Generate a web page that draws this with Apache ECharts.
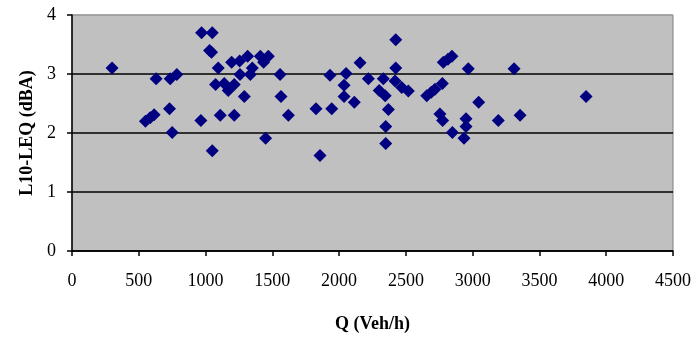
<!DOCTYPE html>
<html>
<head>
    <meta charset="utf-8">
    <title>L10-LEQ vs Q</title>
    <script src="https://cdn.jsdelivr.net/npm/echarts@6/dist/echarts.min.js"></script>
    <style>
        html, body { margin: 0; padding: 0; background: #fff; }
        #chart { width: 699px; height: 338px; }
    </style>
</head>
<body>
    <div id="chart"></div>
    <script>
        // flow (veh/h) and L10-LEQ (dBA)
        const flow = [
            300, 550, 585, 615, 630, 735, 785, 730, 750,
            965, 970, 1050, 1030, 1045, 1050, 1095, 1075, 1110,
            1140, 1170, 1195, 1215, 1215, 1255, 1258, 1290, 1315, 1335, 1350,
            1410, 1435, 1470, 1450, 1558, 1565, 1620,
            1827, 1857, 1932, 1945, 2037, 2037, 2052, 2114, 2157, 2219,
            2300, 2331, 2345, 2369, 2349, 2349, 2424, 2424, 2419, 2469, 2518,
            2656, 2690, 2718, 2773, 2780, 2815, 2845, 2755, 2775, 2848,
            2967, 2950, 2950, 2935, 3045, 3192, 3310, 3355, 3849
        ];
        const l10leq = [
            3.1, 2.2, 2.26, 2.31, 2.92, 2.92, 2.99, 2.41, 2.01,
            2.21, 3.7, 3.7, 3.4, 3.37, 1.7, 3.1, 2.82, 2.3,
            2.84, 2.72, 3.2, 2.82, 2.3, 3.22, 2.99, 2.62, 3.3, 2.99, 3.1,
            3.3, 3.2, 3.3, 1.91, 2.99, 2.62, 2.3,
            2.41, 1.62, 2.98, 2.41, 2.81, 2.62, 3.01, 2.52, 3.19, 2.92,
            2.72, 2.92, 2.63, 2.4, 2.11, 1.82, 3.58, 3.1, 2.88, 2.77, 2.71,
            2.63, 2.69, 2.74, 2.84, 3.2, 3.25, 3.3, 2.32, 2.21, 2.01,
            3.09, 2.24, 2.11, 1.91, 2.52, 2.21, 3.09, 2.3, 2.62
        ];

        const points = flow.map((q, i) => [q, l10leq[i]]);
        const font = '"Liberation Serif", "Times New Roman", serif';

        const chart = echarts.init(document.getElementById('chart'));
        chart.setOption({
            animation: false,
            backgroundColor: '#ffffff',
            grid: {
                left: 72, right: 26, top: 15, bottom: 85,
                show: true,
                backgroundColor: '#c0c0c0',
                borderColor: '#808080',
                borderWidth: 1
            },
            xAxis: {
                type: 'value',
                min: 0, max: 4500, interval: 500,
                name: 'Q (Veh/h)',
                nameLocation: 'middle',
                nameGap: 64,
                nameTextStyle: { fontFamily: font, fontSize: 18, fontWeight: 'bold', color: '#000' },
                axisLine: { onZero: false, lineStyle: { color: '#000', width: 1.5 } },
                axisTick: { show: true, length: 5, lineStyle: { color: '#000', width: 1.5 } },
                axisLabel: {
                    margin: 21, fontFamily: font, fontSize: 18, color: '#000',
                    formatter: v => String(v)
                },
                splitLine: { show: false }
            },
            yAxis: {
                type: 'value',
                min: 0, max: 4, interval: 1,
                name: 'L10-LEQ (dBA)',
                nameLocation: 'middle',
                nameGap: 36,
                nameTextStyle: { fontFamily: font, fontSize: 18, fontWeight: 'bold', color: '#000' },
                axisLine: { show: true, lineStyle: { color: '#000', width: 1.5 } },
                axisTick: { show: true, length: 5, lineStyle: { color: '#000', width: 1.5 } },
                axisLabel: { margin: 16, fontFamily: font, fontSize: 18, color: '#000' },
                splitLine: {
                    show: true,
                    lineStyle: { color: ['#000', '#000', '#000', '#000', '#a0a0a0'], width: 1.5 }
                }
            },
            series: [{
                type: 'scatter',
                data: points,
                symbol: 'diamond',
                symbolSize: 13,
                itemStyle: { color: '#000080', opacity: 1 }
            }]
        });
    </script>
</body>
</html>
